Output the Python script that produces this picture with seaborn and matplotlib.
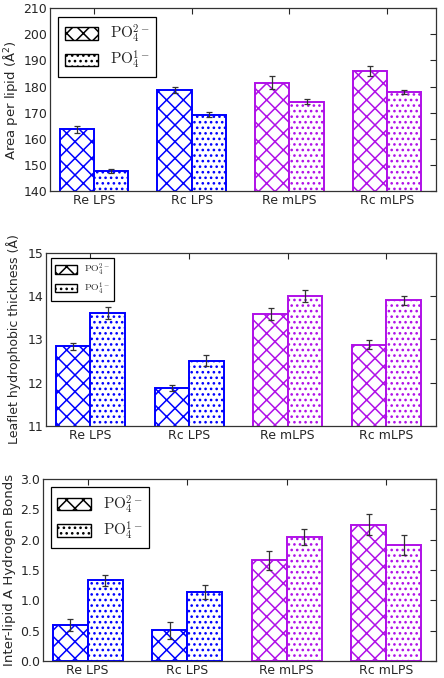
import numpy as np
import pandas as pd
import seaborn as sns
import matplotlib
matplotlib.use('Agg')
from matplotlib import pyplot as plt
from matplotlib.patches import Patch

lipids = ['Re LPS', 'Rc LPS', 'Re mLPS', 'Rc mLPS']
charges = ['PO4 2-', 'PO4 1-']
legend_labels = [r'$\mathrm{PO}_4^{2-}$', r'$\mathrm{PO}_4^{1-}$']

# area per lipid (A^2)
area_2 = [163.6, 178.7, 181.5, 185.9]
area_1 = [147.7, 169.2, 174.2, 177.8]
area_2_err = [1.2, 1.0, 2.4, 1.8]
area_1_err = [0.8, 1.0, 0.9, 0.8]

# leaflet hydrophobic thickness (A)
thick_2 = [12.84, 11.88, 13.59, 12.88]
thick_1 = [13.61, 12.51, 14.00, 13.90]
thick_2_err = [0.085, 0.07, 0.14, 0.11]
thick_1_err = [0.14, 0.12, 0.14, 0.11]

# inter-lipid A hydrogen bonds
hb_2 = [0.59, 0.505, 1.66, 2.25]
hb_1 = [1.33, 1.14, 2.04, 1.91]
hb_2_err = [0.10, 0.14, 0.16, 0.17]
hb_1_err = [0.09, 0.12, 0.13, 0.16]

lipid_colors = ['#0000FF', '#0000FF', '#B010E8', '#B010E8']
hatches = ['xx', '...']

sns.set_style('white')
plt.rcParams['font.family'] = ['DejaVu Sans']
plt.rcParams['hatch.linewidth'] = 1.1


def panel(ax, v2, v1, e2, e1, ylim, yticks, ylabel, fmt, ylab_size, ylab_x,
          leg_size):
    df = pd.DataFrame({
        'lipid': lipids * 2,
        'charge': [charges[0]] * 4 + [charges[1]] * 4,
        'value': v2 + v1,
    })
    sns.barplot(data=df, x='lipid', y='value', hue='charge', order=lipids,
                hue_order=charges, width=0.7, ax=ax, legend=False,
                errorbar=None)
    errs = [e2, e1]
    bar_groups = list(ax.containers)
    for k, cont in enumerate(bar_groups):
        xs, hs = [], []
        for i, bar in enumerate(cont.patches):
            bar.set_facecolor('white')
            bar.set_edgecolor(lipid_colors[i])
            bar.set_hatch(hatches[k])
            bar.set_linewidth(1.4)
            xs.append(bar.get_x() + bar.get_width() / 2)
            hs.append(bar.get_y() + bar.get_height())
        ax.errorbar(xs, hs, yerr=errs[k], fmt='none', ecolor='#333333',
                    elinewidth=0.9, capsize=2.2, capthick=0.9, zorder=5)
    ax.set_xlim(-0.45, 3.5)
    ax.set_ylim(*ylim)
    ax.set_yticks(yticks)
    ax.set_yticklabels([fmt % t for t in yticks])
    ax.set_xlabel('')
    ax.set_ylabel(ylabel, fontsize=ylab_size)
    ax.yaxis.set_label_coords(ylab_x, 0.5)
    ax.tick_params(direction='in', top=True, right=True, length=4,
                   labelsize=9, pad=2)
    for s in ax.spines.values():
        s.set_color('#333333')
        s.set_linewidth(0.9)
    handles = [Patch(facecolor='white', edgecolor='black', hatch=h)
               for h in hatches]
    leg = ax.legend(handles, legend_labels, loc='upper left', fancybox=False,
                    edgecolor='black', framealpha=1,
                    prop=dict(size=leg_size, math_fontfamily='cm'),
                    handlelength=2.2, handleheight=0.9, borderaxespad=0.55,
                    labelspacing=0.3)
    leg.get_frame().set_linewidth(0.9)


fig = plt.figure(figsize=(4.44, 6.78), dpi=100)
ax1 = fig.add_axes([0.1126, 0.718, 0.8694, 0.270])
ax2 = fig.add_axes([0.1036, 0.372, 0.878, 0.255])
ax3 = fig.add_axes([0.0968, 0.0251, 0.885, 0.2684])

panel(ax1, area_2, area_1, area_2_err, area_1_err, (140, 210),
      np.arange(140, 211, 10), 'Area per lipid (Å$^2$)', '%d', 9.5, -0.078,
      11)
panel(ax2, thick_2, thick_1, thick_2_err, thick_1_err, (11, 15),
      np.arange(11, 16, 1), 'Leaflet hydrophobic thickness (Å)', '%d', 9,
      -0.065, 7)
panel(ax3, hb_2, hb_1, hb_2_err, hb_1_err, (0, 3),
      np.arange(0, 3.01, 0.5), 'Inter-lipid A Hydrogen Bonds', '%.1f', 9.6,
      -0.068, 11)

fig.savefig('out.png', dpi=100)
